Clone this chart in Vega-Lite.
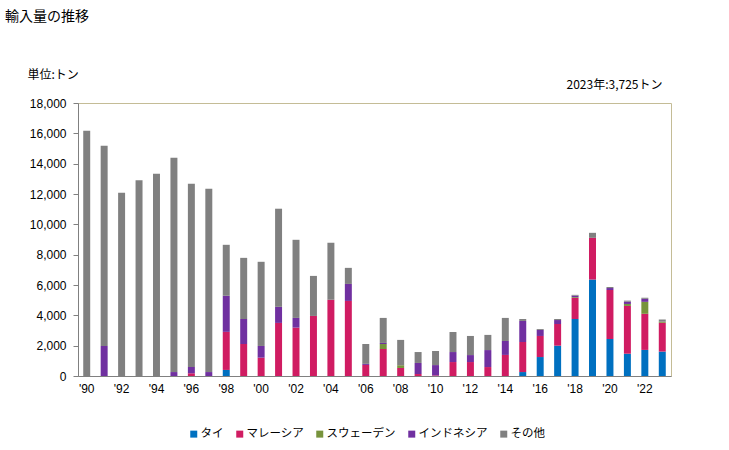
{
  "$schema": "https://vega.github.io/schema/vega-lite/v6.json",
  "width": 593,
  "height": 273,
  "autosize": {"type": "none"},
  "padding": {"left": 78, "top": 103, "right": 58, "bottom": 74},
  "background": "white",
  "title": {
    "text": "輸入量の推移",
    "anchor": "start",
    "frame": "group",
    "orient": "top",
    "offset": 44,
    "dx": -73,
    "font": "Noto Sans CJK JP",
    "fontSize": 14,
    "fontWeight": "normal",
    "color": "#000000"
  },
  "data": {
    "values": [
      {"year": "1990", "country": "その他", "value": 16170},
      {"year": "1991", "country": "インドネシア", "value": 1980},
      {"year": "1991", "country": "その他", "value": 13200},
      {"year": "1992", "country": "その他", "value": 12080},
      {"year": "1993", "country": "その他", "value": 12900},
      {"year": "1994", "country": "その他", "value": 13340},
      {"year": "1995", "country": "インドネシア", "value": 260},
      {"year": "1995", "country": "その他", "value": 14130},
      {"year": "1996", "country": "マレーシア", "value": 180},
      {"year": "1996", "country": "インドネシア", "value": 420},
      {"year": "1996", "country": "その他", "value": 12080},
      {"year": "1997", "country": "インドネシア", "value": 260},
      {"year": "1997", "country": "その他", "value": 12090},
      {"year": "1998", "country": "タイ", "value": 400},
      {"year": "1998", "country": "マレーシア", "value": 2510},
      {"year": "1998", "country": "インドネシア", "value": 2380},
      {"year": "1998", "country": "その他", "value": 3360},
      {"year": "1999", "country": "マレーシア", "value": 2110},
      {"year": "1999", "country": "インドネシア", "value": 1650},
      {"year": "1999", "country": "その他", "value": 4030},
      {"year": "2000", "country": "マレーシア", "value": 1210},
      {"year": "2000", "country": "インドネシア", "value": 770},
      {"year": "2000", "country": "その他", "value": 5550},
      {"year": "2001", "country": "マレーシア", "value": 3500},
      {"year": "2001", "country": "インドネシア", "value": 1060},
      {"year": "2001", "country": "その他", "value": 6470},
      {"year": "2002", "country": "マレーシア", "value": 3190},
      {"year": "2002", "country": "インドネシア", "value": 640},
      {"year": "2002", "country": "その他", "value": 5150},
      {"year": "2003", "country": "マレーシア", "value": 3960},
      {"year": "2003", "country": "その他", "value": 2640},
      {"year": "2004", "country": "マレーシア", "value": 5020},
      {"year": "2004", "country": "その他", "value": 3760},
      {"year": "2005", "country": "マレーシア", "value": 4950},
      {"year": "2005", "country": "インドネシア", "value": 1120},
      {"year": "2005", "country": "その他", "value": 1060},
      {"year": "2006", "country": "マレーシア", "value": 730},
      {"year": "2006", "country": "インドネシア", "value": 70},
      {"year": "2006", "country": "その他", "value": 1310},
      {"year": "2007", "country": "マレーシア", "value": 1780},
      {"year": "2007", "country": "スウェーデン", "value": 330},
      {"year": "2007", "country": "インドネシア", "value": 70},
      {"year": "2007", "country": "その他", "value": 1650},
      {"year": "2008", "country": "マレーシア", "value": 530},
      {"year": "2008", "country": "スウェーデン", "value": 180},
      {"year": "2008", "country": "その他", "value": 1670},
      {"year": "2009", "country": "マレーシア", "value": 130},
      {"year": "2009", "country": "インドネシア", "value": 730},
      {"year": "2009", "country": "その他", "value": 720},
      {"year": "2010", "country": "マレーシア", "value": 40},
      {"year": "2010", "country": "インドネシア", "value": 680},
      {"year": "2010", "country": "その他", "value": 930},
      {"year": "2011", "country": "マレーシア", "value": 920},
      {"year": "2011", "country": "インドネシア", "value": 660},
      {"year": "2011", "country": "その他", "value": 1320},
      {"year": "2012", "country": "マレーシア", "value": 920},
      {"year": "2012", "country": "インドネシア", "value": 460},
      {"year": "2012", "country": "その他", "value": 1260},
      {"year": "2013", "country": "マレーシア", "value": 590},
      {"year": "2013", "country": "インドネシア", "value": 1120},
      {"year": "2013", "country": "その他", "value": 1000},
      {"year": "2014", "country": "マレーシア", "value": 1390},
      {"year": "2014", "country": "インドネシア", "value": 920},
      {"year": "2014", "country": "その他", "value": 1520},
      {"year": "2015", "country": "タイ", "value": 260},
      {"year": "2015", "country": "マレーシア", "value": 1980},
      {"year": "2015", "country": "インドネシア", "value": 1390},
      {"year": "2015", "country": "その他", "value": 130},
      {"year": "2016", "country": "タイ", "value": 1250},
      {"year": "2016", "country": "マレーシア", "value": 1390},
      {"year": "2016", "country": "インドネシア", "value": 400},
      {"year": "2016", "country": "その他", "value": 60},
      {"year": "2017", "country": "タイ", "value": 2000},
      {"year": "2017", "country": "マレーシア", "value": 1430},
      {"year": "2017", "country": "インドネシア", "value": 260},
      {"year": "2017", "country": "その他", "value": 70},
      {"year": "2018", "country": "タイ", "value": 3760},
      {"year": "2018", "country": "マレーシア", "value": 1390},
      {"year": "2018", "country": "スウェーデン", "value": 50},
      {"year": "2018", "country": "インドネシア", "value": 100},
      {"year": "2018", "country": "その他", "value": 50},
      {"year": "2019", "country": "タイ", "value": 6360},
      {"year": "2019", "country": "マレーシア", "value": 2750},
      {"year": "2019", "country": "その他", "value": 330},
      {"year": "2020", "country": "タイ", "value": 2440},
      {"year": "2020", "country": "マレーシア", "value": 3230},
      {"year": "2020", "country": "インドネシア", "value": 130},
      {"year": "2020", "country": "その他", "value": 70},
      {"year": "2021", "country": "タイ", "value": 1470},
      {"year": "2021", "country": "マレーシア", "value": 3150},
      {"year": "2021", "country": "スウェーデン", "value": 130},
      {"year": "2021", "country": "インドネシア", "value": 150},
      {"year": "2021", "country": "その他", "value": 70},
      {"year": "2022", "country": "タイ", "value": 1720},
      {"year": "2022", "country": "マレーシア", "value": 2380},
      {"year": "2022", "country": "スウェーデン", "value": 790},
      {"year": "2022", "country": "インドネシア", "value": 200},
      {"year": "2022", "country": "その他", "value": 70},
      {"year": "2023", "country": "タイ", "value": 1610},
      {"year": "2023", "country": "マレーシア", "value": 1900},
      {"year": "2023", "country": "スウェーデン", "value": 70},
      {"year": "2023", "country": "その他", "value": 145}
    ]
  },
  "transform": [
    {"calculate": "indexof(['タイ', 'マレーシア', 'スウェーデン', 'インドネシア', 'その他'], datum.country)", "as": "stackOrder"}
  ],
  "mark": {"type": "bar"},
  "encoding": {
    "x": {
      "field": "year",
      "type": "ordinal",
      "scale": {"paddingInner": 0.6, "paddingOuter": 0.3},
      "axis": {
        "labelExpr": "parseInt(datum.value) % 2 == 0 ? \"'\" + substring(datum.value, 2, 4) : ''",
        "labelAngle": 0,
        "ticks": false,
        "labelPadding": 7,
        "labelFont": "Liberation Sans",
        "labelFontSize": 12,
        "labelColor": "#000000",
        "domainColor": "#808080",
        "domainWidth": 1,
        "title": "2023年:3,725トン",
        "titleFont": "Noto Sans CJK JP",
        "titleFontSize": 12,
        "titleFontWeight": "normal",
        "titleColor": "#000000",
        "titleAngle": 0,
        "titleAlign": "right",
        "titleBaseline": "middle",
        "titleX": 584,
        "titleY": -292
      }
    },
    "y": {
      "field": "value",
      "type": "quantitative",
      "stack": "zero",
      "scale": {"domain": [0, 18000], "nice": false},
      "axis": {
        "values": [0, 2000, 4000, 6000, 8000, 10000, 12000, 14000, 16000, 18000],
        "format": ",.0f",
        "grid": false,
        "tickSize": 5,
        "tickColor": "#808080",
        "labelPadding": 7,
        "labelFont": "Liberation Sans",
        "labelFontSize": 12,
        "labelColor": "#000000",
        "domainColor": "#808080",
        "title": "単位:トン",
        "titleFont": "Noto Sans CJK JP",
        "titleFontSize": 12,
        "titleFontWeight": "normal",
        "titleColor": "#000000",
        "titleAngle": 0,
        "titleAlign": "left",
        "titleBaseline": "middle",
        "titleX": -51,
        "titleY": -29
      }
    },
    "color": {
      "field": "country",
      "type": "nominal",
      "sort": ["タイ", "マレーシア", "スウェーデン", "インドネシア", "その他"],
      "scale": {
        "domain": ["タイ", "マレーシア", "スウェーデン", "インドネシア", "その他"],
        "range": ["#0070c0", "#d01c62", "#77933c", "#7030a0", "#808080"]
      },
      "legend": {
        "title": null,
        "orient": "none",
        "legendX": 110,
        "legendY": 325,
        "direction": "horizontal",
        "symbolType": "square",
        "symbolSize": 49,
        "symbolStrokeWidth": 0,
        "labelFont": "Noto Sans CJK JP",
        "labelFontSize": 11.5,
        "labelColor": "#000000",
        "labelOffset": 1,
        "columnPadding": 10
      }
    },
    "order": {"field": "stackOrder", "type": "quantitative", "sort": "ascending"}
  },
  "config": {
    "view": {"stroke": "#c4bc96", "strokeWidth": 1},
    "axis": {"domainWidth": 1}
  }
}
